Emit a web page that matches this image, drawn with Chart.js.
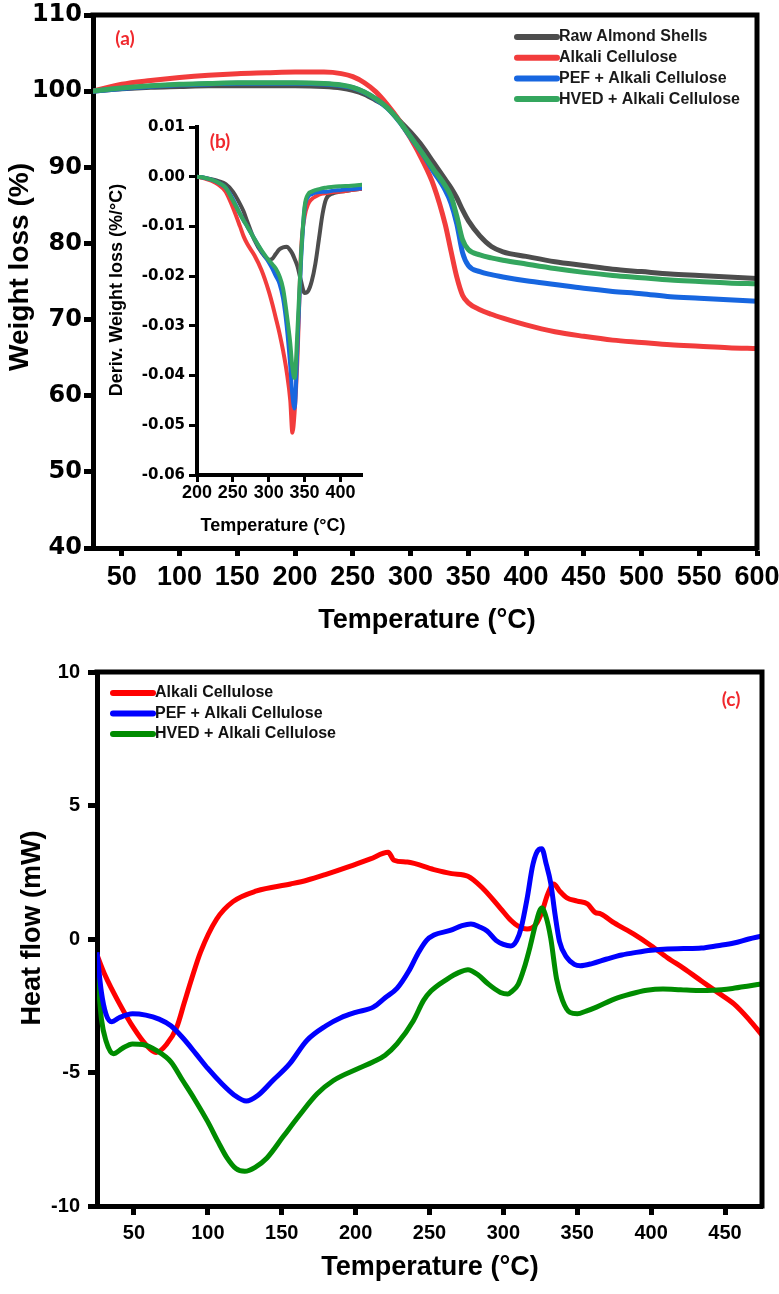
<!DOCTYPE html>
<html><head><meta charset="utf-8">
<script src="https://cdn.jsdelivr.net/npm/chart.js@4.4.1/dist/chart.umd.min.js"></script>
<style>
html,body{margin:0;padding:0;background:#fff;width:779px;height:1294px;overflow:hidden}
canvas{position:absolute}
#ca{left:0;top:0}
#cb{left:100px;top:110px}
#cc{left:0;top:640px}
</style></head><body>
<canvas id="ca" width="779" height="640"></canvas>
<canvas id="cb" width="280" height="440"></canvas>
<canvas id="cc" width="779" height="654"></canvas>
<script>
// ---------- (a) TGA data ----------
const tgaT   = [25,50,75,100,125,150,175,200,225,240,250,260,270,280,290,300,310,320,330,335,340,345,350,360,370,380,400,425,450,475,500,525,550,575,600];
const tgaRaw = [100,100.3,100.5,100.6,100.7,100.7,100.7,100.7,100.6,100.4,100.1,99.6,98.8,97.9,96.2,94.6,92.8,90.6,88.4,87.3,86.0,84.4,83.0,81.0,79.6,78.9,78.3,77.6,77.1,76.6,76.3,76.0,75.8,75.6,75.4];
const tgaAlk = [100,100.9,101.4,101.8,102.1,102.3,102.4,102.5,102.5,102.3,101.9,101.1,99.9,98.2,96.2,93.8,91.0,87.6,82.5,79.0,75.6,73.2,72.2,71.3,70.7,70.2,69.3,68.4,67.8,67.3,67.0,66.7,66.5,66.3,66.2];
const tgaPEF = [100,100.35,100.65,100.85,100.95,101.05,101.05,101.05,100.95,100.75,100.45,99.85,98.95,97.75,96.05,93.95,91.85,89.4,87.0,85.3,82.6,78.8,77.1,76.3,75.9,75.6,75.1,74.6,74.1,73.7,73.4,73.0,72.8,72.6,72.4];
const tgaHVED= [100,100.4,100.7,100.9,101.0,101.1,101.1,101.1,101.0,100.8,100.5,99.9,99.0,97.8,96.1,94.0,91.9,89.7,87.6,86.2,83.6,80.5,79.2,78.5,78.1,77.8,77.3,76.7,76.2,75.8,75.5,75.2,75.0,74.8,74.7];
const tgaXTicks = [50,100,150,200,250,300,350,400,450,500,550,600];
const tgaYTicks = [40,50,60,70,80,90,100,110];

// ---------- (b) DTG data ----------
const dtgT    = [200,210,220,230,240,250,260,265,270,280,290,300,305,310,315,320,325,330,333,336,340,345,350,355,360,365,370,375,380,390,400,415,432];
const dtgRaw  = [0,-0.0002,-0.0005,-0.0009,-0.0015,-0.0030,-0.0055,-0.0070,-0.0090,-0.0127,-0.0152,-0.0167,-0.0165,-0.0155,-0.0146,-0.0142,-0.0141,-0.0148,-0.0155,-0.0165,-0.0180,-0.0210,-0.0234,-0.0230,-0.0210,-0.0175,-0.0125,-0.0075,-0.0045,-0.0033,-0.0030,-0.0027,-0.0024];
const dtgAlk  = [0,-0.0003,-0.0008,-0.0016,-0.0030,-0.0062,-0.0100,-0.0120,-0.0135,-0.0158,-0.0188,-0.0230,-0.0256,-0.0285,-0.0315,-0.0350,-0.0392,-0.0450,-0.0515,-0.0475,-0.0366,-0.0150,-0.0080,-0.0055,-0.0045,-0.0040,-0.0036,-0.0034,-0.0033,-0.0031,-0.0030,-0.0027,-0.0024];
const dtgPEF  = [0,-0.0002,-0.0006,-0.0012,-0.0022,-0.0045,-0.0075,-0.0088,-0.0100,-0.0125,-0.0150,-0.0172,-0.0185,-0.0200,-0.0215,-0.0245,-0.0300,-0.0380,-0.0440,-0.0466,-0.0340,-0.0170,-0.0065,-0.0040,-0.0035,-0.0032,-0.0031,-0.0030,-0.0030,-0.0028,-0.0027,-0.0025,-0.0023];
const dtgHVED = [0,-0.0002,-0.0006,-0.0012,-0.0022,-0.0048,-0.0075,-0.0088,-0.0100,-0.0125,-0.0148,-0.0168,-0.0176,-0.0185,-0.0200,-0.0225,-0.0275,-0.0335,-0.0385,-0.0405,-0.0310,-0.0160,-0.0060,-0.0035,-0.0030,-0.0027,-0.0025,-0.0023,-0.0022,-0.0020,-0.0019,-0.0018,-0.0016];
const dtgXTicks = [200,250,300,350,400];
const dtgYTicks = [-0.06,-0.05,-0.04,-0.03,-0.02,-0.01,0,0.01];
const dtgYLabels = ['-0.06','-0.05','-0.04','-0.03','-0.02','-0.01','0.00','0.01'];

// ---------- (c) DSC data ----------
const dscAlkT = [25,30,40,50,58,65,72,79,84,89,95,106,117,133,156,167,180,195,210,222,226,235,253,265,276,286,298,305,310,316,322,326,330,334,338,343,350,357,362,366,375,388,400,411,422,434,445,456,466,475];
const dscAlkH = [-0.6,-1.3,-2.4,-3.35,-3.95,-4.25,-3.95,-3.3,-2.4,-1.5,-0.5,0.75,1.4,1.8,2.06,2.2,2.42,2.7,3.0,3.25,2.95,2.88,2.6,2.45,2.35,1.9,1.15,0.7,0.48,0.37,0.55,1.0,1.68,2.06,1.8,1.54,1.42,1.31,1.0,0.94,0.6,0.19,-0.25,-0.7,-1.1,-1.57,-2.0,-2.43,-3.0,-3.6];
const dscPEFT = [25,28,31,35,40,49,58,67,75,83,92,100,110,118,126,134,144,155,167,180,190,200,212,220,228,236,242,248,253,264,272,278,284,289,295,300,305,309,312,316,320,324,326,329,332,335,338,343,348,352,360,370,380,390,400,411,422,434,445,456,466,475];
const dscPEFH = [-0.5,-2.0,-2.8,-3.1,-2.95,-2.8,-2.85,-3.0,-3.25,-3.7,-4.3,-4.85,-5.45,-5.85,-6.07,-5.85,-5.3,-4.7,-3.8,-3.25,-2.95,-2.75,-2.55,-2.2,-1.85,-1.2,-0.56,-0.05,0.15,0.32,0.5,0.56,0.45,0.3,-0.05,-0.2,-0.26,-0.05,0.41,1.5,2.8,3.35,3.38,2.8,2.1,0.9,-0.1,-0.7,-0.95,-1.0,-0.92,-0.75,-0.6,-0.5,-0.42,-0.37,-0.36,-0.34,-0.25,-0.15,0.0,0.11];
const dscHVEDT = [25,28,31,36,42,49,56,66,75,83,91,100,107,113,119,125,132,140,151,162,174,185,201,212,220,228,239,246,251,262,270,276,283,289,298,303,306,310,314,318,322,326,329,332,336,340,345,350,356,363,375,386,397,408,420,432,442,455,466,475];
const dscHVEDH = [-1.1,-3.0,-3.8,-4.3,-4.1,-3.93,-3.95,-4.2,-4.6,-5.3,-6.0,-6.85,-7.6,-8.2,-8.6,-8.7,-8.55,-8.2,-7.4,-6.6,-5.8,-5.3,-4.87,-4.6,-4.35,-3.93,-3.07,-2.3,-1.95,-1.5,-1.25,-1.15,-1.35,-1.65,-2.0,-2.06,-1.95,-1.7,-1.1,-0.3,0.6,1.16,0.8,0.04,-1.5,-2.3,-2.75,-2.8,-2.7,-2.55,-2.25,-2.06,-1.92,-1.87,-1.9,-1.93,-1.92,-1.85,-1.76,-1.68];
const dscXTicks = [50,100,150,200,250,300,350,400,450];
const dscYTicks = [-10,-5,0,5,10];

const zip = (xs, ys) => xs.map((x,i)=>({x, y: ys[i]}));

Chart.defaults.font.family = "'Liberation Sans', Arial, sans-serif";
Chart.defaults.color = '#000';

const decor = {
  id: 'decor',
  afterDraw(chart, args, o) {
    const ctx = chart.ctx, a = chart.chartArea;
    ctx.save();
    if (o.frame) {
      ctx.strokeStyle = '#000'; ctx.lineWidth = o.frame; ctx.lineCap = 'square';
      ctx.beginPath();
      ctx.moveTo(a.left, a.top); ctx.lineTo(a.right, a.top); ctx.lineTo(a.right, a.bottom);
      ctx.stroke();
    }
    (o.texts || []).forEach(t => {
      ctx.save();
      ctx.translate(t.x, t.y);
      if (t.rot) ctx.rotate(t.rot);
      ctx.font = t.font; ctx.fillStyle = t.color || '#000';
      ctx.textAlign = 'center'; ctx.textBaseline = 'middle';
      ctx.fillText(t.text, 0, 0);
      ctx.restore();
    });
    if (o.legend) {
      const L = o.legend;
      chart.data.datasets.forEach((ds, i) => {
        const y = L.y + i * L.dy;
        ctx.strokeStyle = ds.borderColor; ctx.lineWidth = L.lw; ctx.lineCap = 'round';
        ctx.beginPath(); ctx.moveTo(L.x0, y); ctx.lineTo(L.x1, y); ctx.stroke();
        ctx.font = L.font; ctx.fillStyle = L.color; ctx.textAlign = 'left'; ctx.textBaseline = 'middle';
        ctx.fillText(ds.label, L.tx, y);
      });
    }
    ctx.restore();
  }
};

function makeAxis(cfg) {
  return {
    type: 'linear', min: cfg.min, max: cfg.max,
    afterFit(s) {
      if (s.isHorizontal()) s.height = cfg.size; else s.width = cfg.size;
      s.paddingLeft = 0; s.paddingRight = 0; s.paddingTop = 0; s.paddingBottom = 0;
    },
    afterBuildTicks(s) { s.ticks = cfg.ticks.map(v => ({ value: v })); },
    ticks: {
      autoSkip: false, maxRotation: 0, minRotation: 0, color: '#000',
      font: cfg.font, padding: cfg.pad,
      callback: cfg.labels ? ((v, i) => cfg.labels[i]) : (v => String(v))
    },
    grid: { display: true, drawOnChartArea: false, drawTicks: true, tickLength: cfg.tl, tickWidth: cfg.tw, tickColor: '#000' },
    border: { display: true, color: '#000', width: cfg.bw }
  };
}

function ds(label, pts, color, width, order) {
  return { label, data: pts, borderColor: color, backgroundColor: color, borderWidth: width,
    pointRadius: 0, pointHoverRadius: 0, fill: false, tension: 0.4, cubicInterpolationMode: 'monotone', order };
}

const baseOpts = { responsive: false, animation: false, events: [],
  plugins: { legend: { display: false }, tooltip: { enabled: false } } };

// ----- (a) -----
const cA = { gray: '#4d4d4d', red: '#f23c3c', blue: '#1766e0', green: '#34a65e' };
new Chart(document.getElementById('ca'), {
  type: 'line',
  data: { datasets: [
    ds('Raw Almond Shells', zip(tgaT, tgaRaw), cA.gray, 5, 3),
    ds('Alkali Cellulose', zip(tgaT, tgaAlk), cA.red, 5, 2),
    ds('PEF + Alkali Cellulose', zip(tgaT, tgaPEF), cA.blue, 5, 1),
    ds('HVED + Alkali Cellulose', zip(tgaT, tgaHVED), cA.green, 5, 0)
  ]},
  options: Object.assign({}, baseOpts, {
    layout: { padding: { top: 15, right: 22, left: 0, bottom: 0 } },
    scales: {
      x: makeAxis({ min: 25, max: 600, ticks: tgaXTicks, size: 92, font: { size: 27, weight: 'bold' }, pad: 5, tl: 8, tw: 5, bw: 5 }),
      y: makeAxis({ min: 40, max: 110, ticks: tgaYTicks, size: 93, font: { family: "'DejaVu Sans'", size: 24, weight: 'bold' }, pad: 2, tl: 9, tw: 5, bw: 5 })
    },
    plugins: Object.assign({}, baseOpts.plugins, {
      decor: {
        frame: 5,
        texts: [
          { text: 'Weight loss (%)', x: 20, y: 267, rot: -Math.PI/2, font: "bold 28px 'Liberation Sans'" },
          { text: 'Temperature (°C)', x: 427, y: 621, font: "bold 27px 'Liberation Sans'" },
          { text: '(a)', x: 125, y: 39, font: "bold 19px 'Lato'", color: '#f0282d' }
        ],
        legend: { x0: 517, x1: 557, tx: 559, y: 37, dy: 20.7, lw: 6, font: "bold 16px 'Liberation Sans'", color: '#1a1a1a' }
      }
    })
  }),
  plugins: [decor]
});

// ----- (b) inset -----
new Chart(document.getElementById('cb'), {
  type: 'line',
  data: { datasets: [
    ds('Raw Almond Shells', zip(dtgT, dtgRaw), cA.gray, 4, 3),
    ds('Alkali Cellulose', zip(dtgT, dtgAlk), cA.red, 4, 2),
    ds('PEF + Alkali Cellulose', zip(dtgT, dtgPEF), cA.blue, 4, 1),
    ds('HVED + Alkali Cellulose', zip(dtgT, dtgHVED), cA.green, 4, 0)
  ]},
  options: Object.assign({}, baseOpts, {
    layout: { padding: { top: 17, right: 18, left: 0, bottom: 0 } },
    scales: {
      x: makeAxis({ min: 200, max: 430, ticks: dtgXTicks, size: 75, font: { size: 18, weight: 'bold' }, pad: 0, tl: 7, tw: 3, bw: 4 }),
      y: makeAxis({ min: -0.06, max: 0.01, ticks: dtgYTicks, labels: dtgYLabels, size: 97, font: { family: "'DejaVu Sans'", size: 15, weight: 'bold' }, pad: 4, tl: 8, tw: 3, bw: 4 })
    },
    plugins: Object.assign({}, baseOpts.plugins, {
      decor: {
        frame: 0,
        texts: [
          { text: 'Deriv. Weight loss (%/°C)', x: 17, y: 180, rot: -Math.PI/2, font: "bold 18px 'Liberation Sans'" },
          { text: 'Temperature (°C)', x: 173, y: 416, font: "bold 18px 'Liberation Sans'" },
          { text: '(b)', x: 120, y: 32, font: "bold 19px 'Lato'", color: '#f0282d' }
        ]
      }
    })
  }),
  plugins: [decor]
});

// ----- (c) -----
const cC = { red: '#ff0000', blue: '#0000ff', green: '#008c00' };
new Chart(document.getElementById('cc'), {
  type: 'line',
  data: { datasets: [
    ds('Alkali Cellulose', zip(dscAlkT, dscAlkH), cC.red, 5, 2),
    ds('PEF + Alkali Cellulose', zip(dscPEFT, dscPEFH), cC.blue, 5, 0),
    ds('HVED + Alkali Cellulose', zip(dscHVEDT, dscHVEDH), cC.green, 5, 1)
  ]},
  options: Object.assign({}, baseOpts, {
    layout: { padding: { top: 32, right: 17, left: 0, bottom: 0 } },
    scales: {
      x: makeAxis({ min: 25, max: 475, ticks: dscXTicks, size: 88, font: { size: 20, weight: 'bold' }, pad: 6, tl: 9, tw: 5, bw: 5 }),
      y: makeAxis({ min: -10, max: 10, ticks: dscYTicks, size: 97, font: { size: 20, weight: 'bold' }, pad: 8, tl: 9, tw: 5, bw: 5 })
    },
    plugins: Object.assign({}, baseOpts.plugins, {
      decor: {
        frame: 5,
        texts: [
          { text: 'Heat flow (mW)', x: 33, y: 288, rot: -Math.PI/2, font: "bold 27px 'Liberation Sans'" },
          { text: 'Temperature (°C)', x: 430, y: 628, font: "bold 27px 'Liberation Sans'" },
          { text: '(c)', x: 731, y: 60, font: "bold 19px 'Lato'", color: '#f0282d' }
        ],
        legend: { x0: 113, x1: 153, tx: 155, y: 53, dy: 20.5, lw: 6, font: "bold 16px 'Liberation Sans'", color: '#111' }
      }
    })
  }),
  plugins: [decor]
});
</script>
</body></html>
